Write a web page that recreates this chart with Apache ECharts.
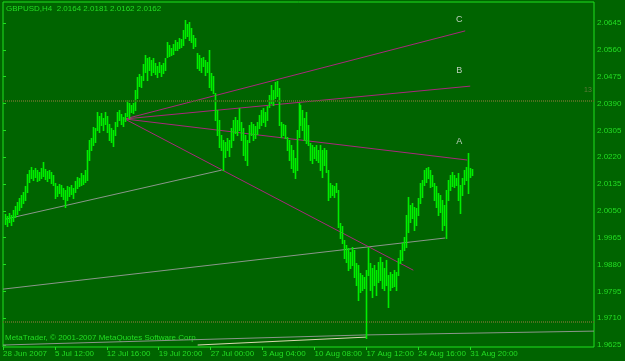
<!DOCTYPE html>
<html>
<head>
<meta charset="utf-8">
<script src="https://cdn.jsdelivr.net/npm/echarts@6/dist/echarts.min.js"></script>
<style>
  html, body { margin: 0; padding: 0; background: #006400; }
  #chart { width: 625px; height: 361px; }
</style>
</head>
<body>
<div id="chart"></div>
<script>
// GBPUSD H4, one bar every 2px; highs / lows
const barHighs = [
  2.0040, 2.0034, 2.0043, 2.0037, 2.0053, 2.0065, 2.0078, 2.0091, 2.0100, 2.0110,
  2.0129, 2.0167, 2.0179, 2.0189, 2.0179, 2.0186, 2.0179, 2.0173, 2.0186, 2.0205,
  2.0182, 2.0176, 2.0179, 2.0173, 2.0163, 2.0138, 2.0129, 2.0135, 2.0132, 2.0122,
  2.0116, 2.0129, 2.0125, 2.0132, 2.0122, 2.0144, 2.0157, 2.0154, 2.0170, 2.0163,
  2.0179, 2.0243, 2.0274, 2.0281, 2.0316, 2.0312, 2.0363, 2.0350, 2.0360, 2.0344,
  2.0363, 2.0350, 2.0325, 2.0312, 2.0306, 2.0331, 2.0363, 2.0369, 2.0357, 2.0347,
  2.0360, 2.0401, 2.0392, 2.0385, 2.0392, 2.0433, 2.0474, 2.0483, 2.0477, 2.0515,
  2.0544, 2.0534, 2.0537, 2.0528, 2.0534, 2.0518, 2.0509, 2.0521, 2.0512, 2.0518,
  2.0534, 2.0585, 2.0575, 2.0566, 2.0578, 2.0591, 2.0585, 2.0597, 2.0594, 2.0623,
  2.0655, 2.0642, 2.0648, 2.0629, 2.0607, 2.0597, 2.0550, 2.0544, 2.0534, 2.0537,
  2.0528, 2.0521, 2.0559, 2.0487, 2.0477, 2.0423, 2.0369, 2.0338, 2.0290, 2.0274,
  2.0268, 2.0281, 2.0274, 2.0312, 2.0338, 2.0347, 2.0338, 2.0376, 2.0331, 2.0312,
  2.0290, 2.0274, 2.0322, 2.0331, 2.0325, 2.0319, 2.0331, 2.0354, 2.0369, 2.0376,
  2.0363, 2.0382, 2.0417, 2.0449, 2.0433, 2.0458, 2.0461, 2.0439, 2.0331, 2.0325,
  2.0322, 2.0284, 2.0274, 2.0259, 2.0243, 2.0217, 2.0306, 2.0392, 2.0385, 2.0369,
  2.0344, 2.0363, 2.0322, 2.0265, 2.0259, 2.0252, 2.0259, 2.0243, 2.0259, 2.0243,
  2.0249, 2.0243, 2.0179, 2.0138, 2.0132, 2.0129, 2.0138, 2.0116, 2.0011, 2.0002,
  1.9958, 1.9942, 1.9932, 1.9920, 1.9935, 1.9926, 1.9885, 1.9878, 1.9853, 1.9847,
  1.9840, 1.9862, 1.9935, 1.9885, 1.9869, 1.9878, 1.9862, 1.9888, 1.9904, 1.9888,
  1.9869, 1.9894, 1.9847, 1.9856, 1.9850, 1.9862, 1.9856, 1.9900, 1.9926, 1.9948,
  1.9967, 2.0037, 2.0094, 2.0068, 2.0075, 2.0062, 2.0059, 2.0091, 2.0138, 2.0148,
  2.0179, 2.0186, 2.0189, 2.0179, 2.0163, 2.0138, 2.0129, 2.0106, 2.0100, 2.0084,
  2.0068, 2.0116, 2.0148, 2.0163, 2.0173, 2.0163, 2.0154, 2.0170, 2.0132, 2.0154,
  2.0179, 2.0189, 2.0233, 2.0186, 2.0181
];
const barLows = [
  2.0008, 2.0002, 2.0015, 2.0005, 2.0018, 2.0030, 2.0040, 2.0053, 2.0062, 2.0075,
  2.0084, 2.0110, 2.0141, 2.0154, 2.0148, 2.0157, 2.0144, 2.0148, 2.0154, 2.0160,
  2.0151, 2.0144, 2.0154, 2.0138, 2.0132, 2.0091, 2.0097, 2.0106, 2.0097, 2.0087,
  2.0062, 2.0084, 2.0097, 2.0103, 2.0091, 2.0110, 2.0122, 2.0129, 2.0132, 2.0135,
  2.0141, 2.0148, 2.0211, 2.0243, 2.0259, 2.0268, 2.0306, 2.0300, 2.0322, 2.0306,
  2.0325, 2.0300, 2.0274, 2.0268, 2.0255, 2.0290, 2.0319, 2.0338, 2.0325, 2.0319,
  2.0335, 2.0350, 2.0344, 2.0363, 2.0360, 2.0369, 2.0407, 2.0445, 2.0442, 2.0464,
  2.0490, 2.0464, 2.0496, 2.0480, 2.0490, 2.0483, 2.0474, 2.0490, 2.0477, 2.0487,
  2.0496, 2.0537, 2.0540, 2.0544, 2.0547, 2.0559, 2.0559, 2.0566, 2.0569, 2.0575,
  2.0597, 2.0604, 2.0591, 2.0585, 2.0566, 2.0572, 2.0502, 2.0496, 2.0490, 2.0509,
  2.0480, 2.0490, 2.0442, 2.0433, 2.0423, 2.0338, 2.0290, 2.0252, 2.0243, 2.0179,
  2.0221, 2.0243, 2.0224, 2.0252, 2.0274, 2.0296, 2.0290, 2.0306, 2.0274, 2.0227,
  2.0211, 2.0195, 2.0268, 2.0290, 2.0274, 2.0281, 2.0293, 2.0312, 2.0322, 2.0331,
  2.0319, 2.0338, 2.0379, 2.0392, 2.0385, 2.0407, 2.0414, 2.0322, 2.0284, 2.0290,
  2.0281, 2.0243, 2.0211, 2.0186, 2.0173, 2.0154, 2.0179, 2.0284, 2.0322, 2.0306,
  2.0274, 2.0265, 2.0259, 2.0211, 2.0201, 2.0217, 2.0211, 2.0205, 2.0179, 2.0157,
  2.0195, 2.0173, 2.0084, 2.0094, 2.0100, 2.0094, 2.0110, 1.9999, 1.9964, 1.9948,
  1.9900, 1.9888, 1.9862, 1.9869, 1.9878, 1.9840, 1.9815, 1.9767, 1.9793, 1.9799,
  1.9805, 1.9647, 1.9847, 1.9799, 1.9777, 1.9815, 1.9783, 1.9824, 1.9831, 1.9805,
  1.9799, 1.9815, 1.9745, 1.9799, 1.9809, 1.9812, 1.9799, 1.9847, 1.9885, 1.9894,
  1.9926, 1.9935, 1.9983, 2.0015, 2.0027, 1.9989, 2.0005, 2.0037, 2.0075, 2.0094,
  2.0132, 2.0141, 2.0154, 2.0125, 2.0129, 2.0084, 2.0062, 2.0037, 2.0046, 1.9989,
  2.0005, 1.9964, 2.0084, 2.0116, 2.0129, 2.0125, 2.0132, 2.0084, 2.0043, 2.0100,
  2.0135, 2.0148, 2.0106, 2.0157, 2.0162
];

const xLabels = ['28 Jun 2007', '5 Jul 12:00', '12 Jul 16:00', '19 Jul 20:00', '27 Jul 00:00',
  '3 Aug 04:00', '10 Aug 08:00', '17 Aug 12:00', '24 Aug 16:00', '31 Aug 20:00'];
const xLabelStep = 26;
const yTicks = [2.0645, 2.0560, 2.0475, 2.0390, 2.0305, 2.0220, 2.0135, 2.0050,
  1.9965, 1.9880, 1.9795, 1.9710, 1.9625];
const lastPrice = 2.0162;

// drawn objects: [bar index, price]
const trendC = [[61, 2.0341], [231.5, 2.0620]];
const trendB = [[61, 2.0341], [234, 2.0445]];
const trendA = [[61, 2.0341], [232.5, 2.0211]];
const trendD = [[61, 2.0341], [205.5, 1.9862]];
const grayUpper = [[1.5, 2.0024], [109.5, 2.0179]];
const grayLower = [[0, 1.9802], [221.5, 1.9964]];
const grayBottom = [[0, 1.9625], [182, 1.9657], [296, 1.9669]];
const paleBottom = [[97.5, 1.9625], [182, 1.9650]];
const levels = [2.0420, 1.9679];
const letterMarks = [[228.5, 2.0655, 'C'], [228.5, 2.0493, 'B'], [228.5, 2.0271, 'A']];

const fg = '#22dd22';
const font = 'Liberation Sans';

const bars = barHighs.map((h, k) => [k + 1, h, barLows[k]]);
const xTickValues = xLabels.map((l, k) => k * xLabelStep);

function lineSeries(data, color, width) {
  return {
    type: 'line', data: data, symbol: 'none', silent: true,
    lineStyle: { color: color, width: width || 1 }, z: 3
  };
}

const chart = echarts.init(document.getElementById('chart'));
chart.setOption({
  animation: false,
  backgroundColor: '#006400',
  grid: { left: 2, right: 31, top: 2, bottom: 14, show: true, borderColor: '#1ee01e', borderWidth: 1 },
  xAxis: {
    type: 'value', min: 0, max: 296,
    axisLine: { show: false },
    splitLine: { show: false },
    axisTick: { customValues: xTickValues, length: 3, lineStyle: { color: '#1ee01e' } },
    axisLabel: {
      customValues: xTickValues, color: fg, fontSize: 8, fontFamily: font, align: 'left', margin: 3,
      formatter: v => xLabels[Math.round(v / xLabelStep)]
    }
  },
  yAxis: {
    type: 'value', position: 'right', min: 1.96187, max: 2.07115,
    axisLine: { show: false },
    splitLine: { show: false },
    axisTick: { customValues: yTicks, length: 3, lineStyle: { color: '#1ee01e' } },
    axisLabel: {
      customValues: yTicks, color: fg, fontSize: 8, fontFamily: font, margin: 3,
      formatter: v => v.toFixed(4)
    }
  },
  series: [
    {
      type: 'line', silent: true, symbol: 'none', data: [],
      markLine: {
        silent: true, symbol: 'none', lineStyle: { color: '#4f7020', type: [1, 1], width: 2 },
        label: { show: false },
        data: levels.map(v => ({ yAxis: v }))
      }
    },
    lineSeries(grayBottom, '#8a968a'),
    lineSeries(paleBottom, '#d8d8b0'),
    lineSeries(grayUpper, '#8a968a'),
    lineSeries(grayLower, '#8a968a'),
    {
      type: 'custom', silent: true, z: 4,
      data: bars,
      encode: { x: 0, y: [1, 2] },
      renderItem: function (params, api) {
        const top = api.coord([api.value(0), api.value(1)]);
        const bot = api.coord([api.value(0), api.value(2)]);
        const x = Math.round(top[0]) + 0.5;
        return {
          type: 'line',
          shape: { x1: x, y1: Math.round(top[1]), x2: x, y2: Math.round(bot[1]) + 1 },
          style: { stroke: '#00ee00', lineWidth: 1.6 }
        };
      },
      markLine: {
        silent: true, symbol: 'none', lineStyle: { opacity: 0 },
        label: {
          position: 'end', distance: 2, formatter: lastPrice.toFixed(4),
          backgroundColor: '#00ff00', color: '#006400', fontSize: 8, fontFamily: font,
          padding: [1, 2, 0, 2]
        },
        data: [{ yAxis: lastPrice }]
      }
    },
    lineSeries(trendC, '#a8287c'),
    lineSeries(trendB, '#a8287c'),
    lineSeries(trendA, '#a8287c'),
    lineSeries(trendD, '#a8287c'),
    {
      type: 'scatter', silent: true, symbolSize: 0, z: 5,
      data: letterMarks.map(m => ({ value: [m[0], m[1]], name: m[2] })),
      label: { show: true, position: 'inside', formatter: p => p.name, color: '#e8e8e8', fontSize: 9, fontFamily: font }
    }
  ],
  graphic: [
    { type: 'text', left: 6, top: 5, style: { text: 'GBPUSD,H4  2.0164 2.0181 2.0162 2.0162', fill: fg, font: '8px "Liberation Sans"' } },
    { type: 'text', left: 5, top: 334, style: { text: 'MetaTrader, © 2001-2007 MetaQuotes Software Corp.', fill: fg, font: '8px "Liberation Sans"' } },
    { type: 'text', left: 584, top: 87, style: { text: '13', fill: '#5f7a3a', font: '7px "Liberation Sans"' } }
  ]
});
</script>
</body>
</html>
